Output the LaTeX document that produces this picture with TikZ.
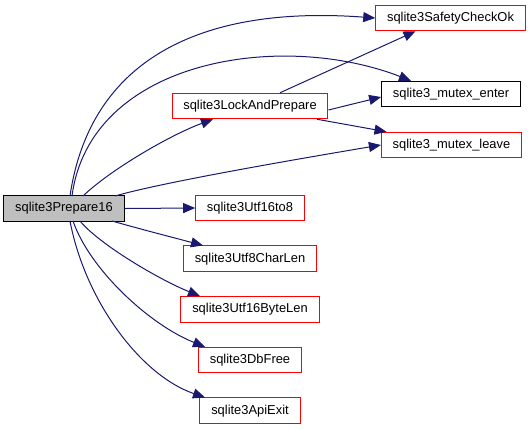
\documentclass[tikz,border=0pt]{standalone}
\usepackage{fontspec}
\setmainfont{Liberation Sans}
\usetikzlibrary{arrows.meta}
\definecolor{edgeblue}{HTML}{191970}
\definecolor{fillgray}{HTML}{BFBFBF}
\begin{document}
\begin{tikzpicture}[x=1pt,y=-1pt,
  fn/.style={draw=red, fill=white, line width=1pt, rectangle, inner xsep=11.3pt, inner ysep=0pt,
    minimum height=25.5pt, font=\fontsize{12.9}{15}\selectfont},
  fnblack/.style={fn, draw=black},
  fnmain/.style={fn, draw=black, fill=fillgray},
  call/.style={draw=edgeblue, line width=1pt, -{Triangle[length=12pt,width=10pt]}}]
\useasboundingbox (0,0) rectangle (532,429);
\node[fnmain] (p) at (64,208.5) {sqlite3Prepare16};
\node[fn] (s) at (450.5,18) {sqlite3SafetyCheckOk};
\node[fn] (l) at (250,106) {sqlite3LockAndPrepare};
\node[fnblack] (me) at (451,94) {sqlite3\_mutex\_enter};
\node[fn] (ml) at (451.5,145) {sqlite3\_mutex\_leave};
\node[fn] (u8) at (250,208) {sqlite3Utf16to8};
\node[fn] (cl) at (250,258.7) {sqlite3Utf8CharLen};
\node[fn] (bl) at (250,309.3) {sqlite3Utf16ByteLen};
\node[fn] (df) at (250,360) {sqlite3DbFree};
\node[fn] (ae) at (250,410.7) {sqlite3ApiExit};
\coordinate (p1) at (70,196);
\coordinate (p2) at (72,196);
\coordinate (p3) at (83,196);
\coordinate (p4) at (115,196);
\coordinate (q1) at (112,221);
\coordinate (q2) at (80,221);
\coordinate (q3) at (73,221);
\coordinate (q4) at (70,221);
\draw[call] (p1) .. controls (90,60) and (200,5) .. (s.west);
\draw[call] (p2) .. controls (90,60) and (280,30) .. ([xshift=-40pt]me.north);
\draw[call] (p3) .. controls (110,170) and (170,135) .. ([xshift=-37pt]l.south);
\draw[call] (p4) .. controls (160,183) and (280,162) .. (ml.west);
\draw[call] (p.east) -- (u8.west);
\draw[call] (q1) .. controls (140,229) and (175,238) .. ([xshift=-47pt]cl.north);
\draw[call] (q2) .. controls (100,245) and (160,280) .. ([xshift=-50pt]bl.north);
\draw[call] (q3) .. controls (90,270) and (150,325) .. ([xshift=-45pt]df.north);
\draw[call] (q4) .. controls (85,300) and (140,375) .. ([xshift=-45pt]ae.north);
\draw[call] ([xshift=30pt]l.north) -- ([xshift=-35pt]s.south);
\draw[call] ([yshift=-4pt]l.east) -- ([yshift=-3pt]me.west);
\draw[call] ([xshift=67pt]l.south) -- ([xshift=-65pt]ml.north);
\end{tikzpicture}
\end{document}
